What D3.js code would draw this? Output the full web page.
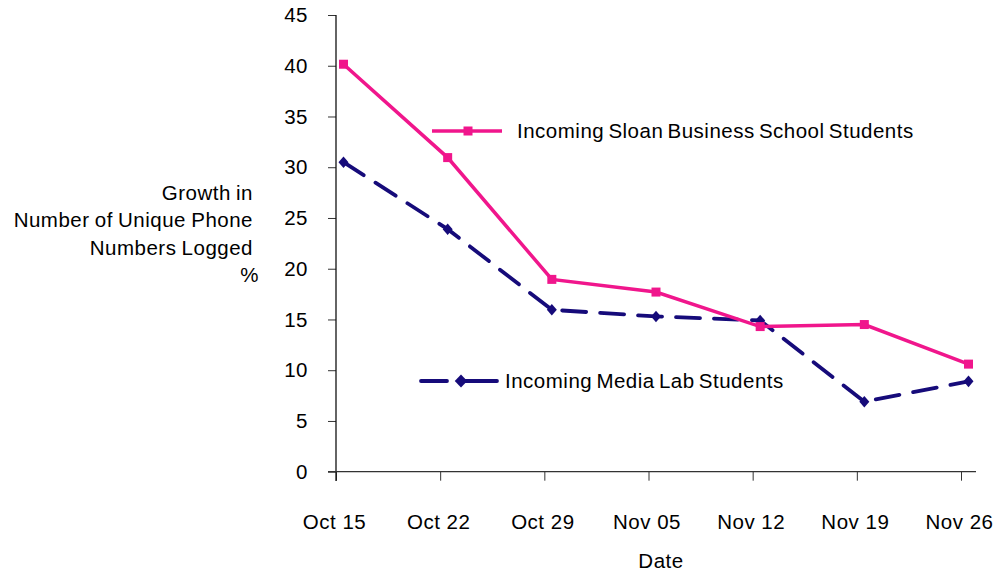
<!DOCTYPE html>
<html>
<head>
<meta charset="utf-8" />
<title>Growth in Number of Unique Phone Numbers Logged</title>
<script src="https://cdnjs.cloudflare.com/ajax/libs/d3/7.8.5/d3.min.js"></script>
<style>
body { margin: 0; background: #fff; }
svg text { font-family: "Liberation Sans", Arial, sans-serif; fill: #000; letter-spacing: 0.5px; }
</style>
</head>
<body>
<svg id="chart" width="995" height="571"></svg>
<script>
// data
const dates = ["Oct 15", "Oct 22", "Oct 29", "Nov 05", "Nov 12", "Nov 19", "Nov 26"];
const sloan = [40.15, 30.95, 18.95, 17.7, 14.3, 14.5, 10.6];
const media = [30.5, 23.9, 15.95, 15.3, 14.9, 6.9, 8.9];
const yTicks = [0, 5, 10, 15, 20, 25, 30, 35, 40, 45];
const titleLines = ["Growth in", "Number of Unique Phone", "Numbers Logged", "%"];

const pink = "#f0168c";
const navy = "#160b7a";
const fs = 20.5;

let svg = d3.select("#chart");

let x = d3.scalePoint().domain(dates).range([336, 961]);
let shift = 7.5; // points sit a little right of their tick
let y = d3.scaleLinear().domain([0, 45]).range([471.7, 15]);

// y axis
let yAxis = svg.append("g")
	.attr("transform", "translate(336,0)")
	.call(d3.axisLeft(y).tickValues(yTicks).tickSize(8).tickPadding(20));
yAxis.select(".domain").remove();
yAxis.selectAll("line").attr("stroke", "#333");
yAxis.selectAll("text").attr("font-size", fs).attr("fill", "#000");

// x axis
let xAxis = svg.append("g")
	.attr("transform", "translate(0,471.7)")
	.call(d3.axisBottom(x).tickSize(9).tickPadding(34));
xAxis.select(".domain").remove();
xAxis.selectAll("line").attr("stroke", "#333");
xAxis.selectAll("text").attr("font-size", fs).attr("fill", "#000").attr("dx", -2);

svg.append("line").attr("x1", 336).attr("x2", 336).attr("y1", 15).attr("y2", 481)
	.attr("stroke", "#111").attr("stroke-width", 1.3);
svg.append("line").attr("x1", 328).attr("x2", 976).attr("y1", 471.7).attr("y2", 471.7)
	.attr("stroke", "#333").attr("stroke-width", 1.3);

// y title
svg.append("g").selectAll("text")
	.data(titleLines)
	.enter()
	.append("text")
		.attr("x", (d, i) => i == 3 ? 259 : 253)
		.attr("y", (d, i) => 200 + i * 27.3)
		.attr("text-anchor", "end")
		.attr("font-size", fs)
		.attr("word-spacing", -1)
		.text(d => d);

svg.append("text")
	.attr("x", 661).attr("y", 568)
	.attr("text-anchor", "middle")
	.attr("font-size", fs)
	.text("Date");

let line = d3.line()
	.x((d, i) => x(dates[i]) + shift)
	.y(d => y(d));

// media lab series (dashed, diamonds)
svg.append("path")
	.datum(media)
	.attr("d", line)
	.attr("fill", "none")
	.attr("stroke", navy)
	.attr("stroke-width", 3.8)
	.attr("stroke-dasharray", "24,14")
	.attr("stroke-linecap", "round");

svg.append("g").selectAll("path")
	.data(media)
	.enter()
	.append("path")
		.attr("d", d3.symbol(d3.symbolDiamond, 60))
		.attr("transform", (d, i) => `translate(${x(dates[i]) + shift},${y(d)}) scale(1.2,0.8)`)
		.attr("fill", navy);

// sloan series (solid, squares)
svg.append("path")
	.datum(sloan)
	.attr("d", line)
	.attr("fill", "none")
	.attr("stroke", pink)
	.attr("stroke-width", 3.5);

svg.append("g").selectAll("rect")
	.data(sloan)
	.enter()
	.append("rect")
		.attr("x", (d, i) => x(dates[i]) + shift - 4.5)
		.attr("y", d => y(d) - 4.5)
		.attr("width", 9)
		.attr("height", 9)
		.attr("fill", pink);

// legends
let leg1 = svg.append("g").attr("transform", "translate(432,131)");
leg1.append("line").attr("x1", 0).attr("x2", 70).attr("stroke", pink).attr("stroke-width", 3.5);
leg1.append("rect").attr("x", 31.5).attr("y", -4.5).attr("width", 9).attr("height", 9).attr("fill", pink);
leg1.append("text").attr("x", 85).attr("y", 7).attr("font-size", fs)
	.attr("word-spacing", -2)
	.text("Incoming Sloan Business School Students");

let leg2 = svg.append("g").attr("transform", "translate(421,381)");
leg2.append("line").attr("x1", 0).attr("x2", 26).attr("stroke", navy).attr("stroke-width", 3.8).attr("stroke-linecap", "round");
leg2.append("line").attr("x1", 42).attr("x2", 76).attr("stroke", navy).attr("stroke-width", 3.8).attr("stroke-linecap", "round");
leg2.append("path").attr("d", d3.symbol(d3.symbolDiamond, 60))
	.attr("transform", "translate(40,0) scale(1.5,0.9)").attr("fill", navy);
leg2.append("text").attr("x", 84).attr("y", 7).attr("font-size", fs)
	.attr("word-spacing", -2)
	.text("Incoming Media Lab Students");
</script>
</body>
</html>
